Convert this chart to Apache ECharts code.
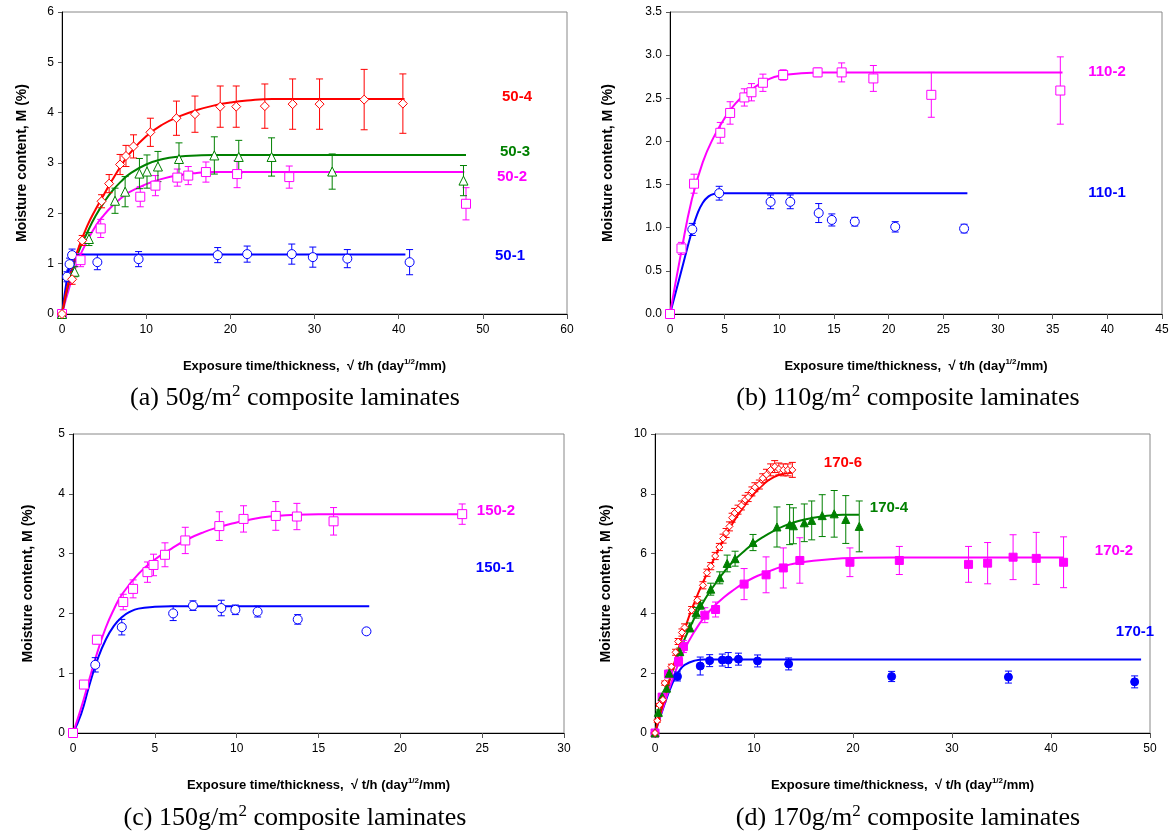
<!DOCTYPE html>
<html><head><meta charset="utf-8">
<script src="https://cdn.jsdelivr.net/npm/echarts@6/dist/echarts.min.js"></script>
<style>html,body{margin:0;padding:0;background:#fff}#c{width:1174px;height:839px}</style>
</head><body><div id="c"></div>
<script>
// ---------- DATA ([x, y, error]) ----------
// Panel (a) 50 g/m2
const s50_1 = [[0,0,0],[0.6,0.74,0.1],[0.9,0.99,0.12],[1.2,1.17,0.12],[4.2,1.03,0.15],[9.1,1.09,0.15],[18.5,1.17,0.15],[22.0,1.19,0.16],[27.3,1.19,0.2],[29.8,1.13,0.2],[33.9,1.10,0.18],[41.3,1.03,0.25]];
const f50_1 = [[0,0],[0.5,0.6],[1,1.06],[1.5,1.17],[2,1.18],[40.8,1.18]];
const s50_2 = [[0,0,0],[2.2,1.07,0.13],[4.6,1.70,0.18],[9.3,2.33,0.2],[11.1,2.55,0.2],[13.7,2.71,0.17],[15.0,2.75,0.18],[17.1,2.82,0.2],[20.8,2.78,0.27],[27.0,2.72,0.22],[48.0,2.19,0.32]];
const f50_2 = [[0,0],[1,0.6],[2,1.1],[3,1.45],[4,1.75],[5,1.97],[6,2.15],[7,2.3],[8,2.42],[10,2.58],[12,2.69],[14,2.76],[16,2.8],[18,2.82],[47.8,2.82]];
const s50_3 = [[0,0,0],[1.5,0.84,0.1],[3.2,1.49,0.13],[6.3,2.25,0.25],[7.5,2.43,0.3],[9.2,2.79,0.3],[10.1,2.83,0.33],[11.4,2.93,0.3],[13.9,3.08,0.32],[18.1,3.15,0.37],[21.0,3.12,0.33],[24.9,3.12,0.38],[32.1,2.83,0.35],[47.7,2.65,0.3]];
const f50_3 = [[0,0],[1,0.75],[2,1.25],[3,1.62],[4,1.95],[5,2.22],[6,2.45],[7,2.63],[8,2.78],[10,2.97],[12,3.08],[14,3.13],[16,3.15],[18,3.16],[48,3.16]];
const s50_4 = [[0,0,0],[1.2,0.69,0.1],[2.4,1.46,0.1],[4.7,2.24,0.13],[5.6,2.59,0.18],[6.9,2.97,0.2],[7.6,3.14,0.21],[8.5,3.33,0.23],[10.5,3.61,0.28],[13.6,3.89,0.34],[15.8,3.97,0.36],[18.8,4.12,0.41],[20.7,4.12,0.41],[24.1,4.13,0.44],[27.4,4.17,0.5],[30.6,4.17,0.5],[35.9,4.26,0.6],[40.5,4.18,0.59]];
const f50_4 = [[0,0],[1,0.8],[2,1.33],[3,1.75],[4,2.08],[5,2.38],[6,2.67],[7,2.94],[8,3.18],[10,3.53],[12,3.77],[14,3.93],[16,4.05],[18,4.14],[20,4.2],[22,4.24],[25,4.27],[40.7,4.27]];
// Panel (b) 110 g/m2
const s110_1 = [[0,0,0],[2.04,0.98,0.07],[4.5,1.40,0.08],[9.2,1.30,0.08],[11.0,1.30,0.08],[13.6,1.17,0.11],[14.8,1.09,0.07],[16.9,1.07,0.05],[20.6,1.01,0.06],[26.9,0.99,0.05]];
const f110_1 = [[0,0],[1,0.48],[2,0.96],[2.5,1.16],[3,1.29],[3.5,1.36],[4,1.39],[5,1.40],[27.2,1.40]];
const s110_2 = [[0,0,0],[1.05,0.76,0.07],[2.2,1.51,0.11],[4.6,2.10,0.12],[5.5,2.33,0.13],[6.8,2.51,0.1],[7.45,2.57,0.1],[8.5,2.68,0.1],[10.35,2.77,0.06],[13.5,2.80,0.05],[15.7,2.80,0.11],[18.6,2.73,0.15],[23.9,2.54,0.26],[35.7,2.59,0.39]];
const f110_2 = [[0,0],[1,0.7],[2,1.33],[3,1.76],[4,2.05],[5,2.27],[6,2.44],[7,2.56],[8,2.65],[9,2.72],[10,2.76],[12,2.79],[14,2.8],[35.9,2.8]];
// Panel (c) 150 g/m2
const s150_1 = [[0,0,0],[1.36,1.14,0.12],[2.98,1.77,0.13],[6.12,2.00,0.12],[7.33,2.13,0.08],[9.06,2.09,0.13],[9.92,2.06,0.08],[11.28,2.03,0.09],[13.73,1.90,0.08],[17.93,1.70,0.05]];
const f150_1 = [[0,0],[0.5,0.32],[1,0.8],[1.5,1.23],[2,1.56],[2.5,1.79],[3,1.94],[3.5,2.03],[4,2.08],[5,2.11],[6,2.12],[18.1,2.12]];
const s150_2 = [[0,0,0],[0.67,0.81,0.05],[1.46,1.56,0.07],[3.07,2.19,0.13],[3.67,2.41,0.15],[4.55,2.69,0.17],[4.92,2.81,0.18],[5.62,2.98,0.2],[6.86,3.22,0.22],[8.94,3.46,0.24],[10.42,3.58,0.22],[12.39,3.63,0.24],[13.68,3.62,0.22],[15.92,3.54,0.23],[23.78,3.66,0.17]];
const f150_2 = [[0,0],[0.5,0.42],[1,0.9],[1.5,1.36],[2,1.76],[2.5,2.07],[3,2.32],[4,2.66],[5,2.9],[6,3.08],[7,3.24],[8,3.36],[9,3.45],[10,3.52],[11,3.58],[12,3.62],[13,3.64],[15,3.66],[23.8,3.66]];
// Panel (d) 170 g/m2
const s170_1 = [[0,0,0],[2.27,1.89,0.15],[4.57,2.24,0.3],[5.52,2.42,0.2],[6.8,2.44,0.2],[7.4,2.44,0.25],[8.43,2.47,0.2],[10.36,2.41,0.2],[13.5,2.31,0.2],[23.9,1.89,0.17],[35.7,1.87,0.2],[48.45,1.71,0.2]];
const f170_1 = [[0,0],[0.5,0.5],[1,1.0],[1.5,1.45],[2,1.83],[2.5,2.1],[3,2.28],[4,2.42],[5,2.46],[6,2.46],[49.1,2.46]];
const s170_2 = [[0,0,0],[0.72,1.2,0.1],[1.36,1.97,0.1],[2.38,2.39,0.15],[2.87,2.89,0.2],[5.03,3.94,0.25],[6.12,4.13,0.25],[9.0,4.98,0.52],[11.22,5.29,0.6],[12.96,5.52,0.67],[14.63,5.77,0.76],[19.69,5.71,0.48],[24.68,5.77,0.47],[31.67,5.64,0.6],[33.6,5.68,0.69],[36.17,5.88,0.75],[38.51,5.84,0.87],[41.27,5.71,0.85]];
const f170_2 = [[0,0],[1,1.05],[2,2.0],[3,2.8],[4,3.4],[5,3.88],[6,4.25],[7,4.55],[8,4.8],[9,5.02],[10,5.2],[11,5.34],[12,5.47],[13,5.58],[14,5.66],[16,5.76],[18,5.82],[20,5.85],[24,5.87],[41.3,5.87]];
const s170_4 = [[0,0,0],[0.34,0.69,0.08],[0.72,1.22,0.1],[1.17,1.5,0.1],[1.44,2.0,0.1],[2.5,2.72,0.12],[3.51,3.53,0.15],[4.16,4.02,0.18],[4.57,4.29,0.15],[5.63,4.81,0.2],[6.54,5.19,0.2],[7.29,5.67,0.28],[8.09,5.83,0.25],[9.9,6.37,0.27],[12.32,6.89,0.67],[13.6,6.97,0.67],[13.98,6.93,0.6],[15.08,7.03,0.63],[15.83,7.11,0.65],[16.89,7.27,0.7],[18.1,7.33,0.78],[19.27,7.14,0.8],[20.63,6.91,0.85]];
const f170_4 = [[0,0],[1,1.25],[2,2.3],[3,3.15],[4,3.85],[5,4.45],[6,4.95],[7,5.4],[8,5.78],[9,6.08],[10,6.35],[11,6.57],[12,6.76],[13,6.92],[14,7.04],[15,7.13],[16,7.2],[17,7.25],[18,7.28],[19,7.3],[20.6,7.3]];
const s170_6 = [[0,0,0],[0.23,0.41,0.05],[0.45,0.94,0.05],[0.8,1.11,0.07],[0.98,1.67,0.07],[1.66,2.22,0.08],[2.08,2.7,0.1],[2.34,3.06,0.1],[2.72,3.36,0.12],[2.99,3.53,0.12],[3.7,4.11,0.12],[4.27,4.44,0.12],[4.84,4.94,0.12],[5.25,5.36,0.12],[5.63,5.58,0.12],[6.08,5.92,0.12],[6.5,6.22,0.12],[6.88,6.5,0.15],[7.18,6.69,0.15],[7.52,6.91,0.15],[7.79,7.2,0.15],[8.05,7.36,0.15],[8.39,7.47,0.15],[8.73,7.61,0.15],[9.11,7.8,0.15],[9.41,7.89,0.15],[9.79,8.08,0.15],[10.09,8.22,0.15],[10.54,8.31,0.15],[10.88,8.52,0.15],[11.26,8.64,0.18],[11.68,8.8,0.2],[12.09,8.91,0.2],[12.51,8.83,0.2],[12.96,8.8,0.2],[13.42,8.8,0.2],[13.87,8.8,0.25]];
const f170_6 = [[0,0],[0.5,0.6],[1,1.2],[2,2.4],[3,3.48],[4,4.38],[5,5.15],[6,5.85],[7,6.52],[8,7.1],[9,7.58],[10,8.0],[11,8.33],[12,8.56],[13,8.67],[13.9,8.7]];

const seriesLabels = ['50-4','50-3','50-2','50-1','110-2','110-1','150-2','150-1','170-6','170-4','170-2','170-1'];
const captions = ['(a) 50g/m','(b) 110g/m','(c) 150g/m','(d) 170g/m'];
const xAxisTitle = ['Exposure time/thickness,  \u221A t/h (day', '1/2', '/mm)'];
const yAxisTitle = 'Moisture content, M (%)';

// ---------- STYLE ----------
const RED='#ff0000', GREEN='#008000', MAG='#ff00ff', BLUE='#0000ff';
const NARROW='"Liberation Sans Narrow","Arial Narrow","Liberation Sans",Arial,sans-serif';
const SANS='"Liberation Sans",Arial,sans-serif';
const SERIF='"Liberation Serif","Times New Roman",serif';

const grids = [
  {left:62, top:12, width:505, height:302},
  {left:670, top:12, width:492, height:302},
  {left:73, top:434, width:491, height:299},
  {left:655, top:434, width:495, height:299}
];
const axesCfg = [
  {xMax:60, xInt:10, yMax:6, yInt:1, dec:0, gap:33},
  {xMax:45, xInt:5, yMax:3.5, yInt:0.5, dec:1, gap:55},
  {xMax:30, xInt:5, yMax:5, yInt:1, dec:0, gap:38},
  {xMax:50, xInt:10, yMax:10, yInt:2, dec:0, gap:42}
];

const xAxes = axesCfg.map((c,i)=>({
  type:'value', gridIndex:i, min:0, max:c.xMax, interval:c.xInt,
  axisLine:{show:true, onZero:false, lineStyle:{color:'#000', width:1}},
  axisTick:{show:true, length:5, lineStyle:{color:'#555'}},
  splitLine:{show:false},
  axisLabel:{color:'#000', fontSize:12, fontFamily:NARROW, margin:10},
  name:'{a|'+xAxisTitle[0]+'}{b|'+xAxisTitle[1]+'}{a|'+xAxisTitle[2]+'}',
  nameLocation:'middle', nameGap:44,
  nameTextStyle:{rich:{
    a:{fontSize:13, fontWeight:'bold', fontFamily:NARROW, color:'#000', lineHeight:16},
    b:{fontSize:8, fontWeight:'bold', fontFamily:NARROW, color:'#000', lineHeight:10, verticalAlign:'top'}
  }}
}));
const yAxes = axesCfg.map((c,i)=>({
  type:'value', gridIndex:i, min:0, max:c.yMax, interval:c.yInt,
  axisLine:{show:true, onZero:false, lineStyle:{color:'#000', width:1}},
  axisTick:{show:true, length:4, lineStyle:{color:'#555'}},
  splitLine:{show:false},
  axisLabel:{color:'#000', fontSize:12, fontFamily:SANS, margin:8, formatter:v=>v.toFixed(c.dec)},
  name:yAxisTitle, nameLocation:'middle', nameGap:c.gap, nameRotate:90,
  nameTextStyle:{fontSize:14, fontWeight:'bold', fontFamily:SANS, color:'#000'}
}));

const series = [];
function addSet(idx, data, fit, color, symbol, filled, size){
  series.push({type:'line', xAxisIndex:idx, yAxisIndex:idx, data:fit, smooth:0.5,
    showSymbol:false, symbol:'none', lineStyle:{color, width:2}, z:2, silent:true});
  series.push({type:'custom', xAxisIndex:idx, yAxisIndex:idx, data:data.filter(d=>d[2]>0), z:3, silent:true,
    encode:{x:0, y:1},
    renderItem:(p, api)=>{
      const x=api.value(0), y=api.value(1), e=api.value(2);
      const hi=api.coord([x,y+e]), lo=api.coord([x,y-e]);
      const w=3.5, st={stroke:color, lineWidth:1};
      return {type:'group', children:[
        {type:'line', shape:{x1:hi[0],y1:hi[1],x2:lo[0],y2:lo[1]}, style:st},
        {type:'line', shape:{x1:hi[0]-w,y1:hi[1],x2:hi[0]+w,y2:hi[1]}, style:st},
        {type:'line', shape:{x1:lo[0]-w,y1:lo[1],x2:lo[0]+w,y2:lo[1]}, style:st}
      ]};
    }});
  series.push({type:'scatter', xAxisIndex:idx, yAxisIndex:idx, data:data.map(d=>[d[0],d[1]]),
    symbol, symbolSize:size, itemStyle:{color: filled?color:'#fff', borderColor:color, borderWidth:1, opacity:1}, z:4, silent:true});
}
addSet(0, s50_1, f50_1, BLUE, 'circle', false, 9);
addSet(0, s50_2, f50_2, MAG, 'rect', false, 9);
addSet(0, s50_3, f50_3, GREEN, 'triangle', false, 9);
addSet(0, s50_4, f50_4, RED, 'diamond', false, 9);
addSet(1, s110_1, f110_1, BLUE, 'circle', false, 9);
addSet(1, s110_2, f110_2, MAG, 'rect', false, 9);
addSet(2, s150_1, f150_1, BLUE, 'circle', false, 9);
addSet(2, s150_2, f150_2, MAG, 'rect', false, 9);
addSet(3, s170_1, f170_1, BLUE, 'circle', true, 8);
addSet(3, s170_2, f170_2, MAG, 'rect', true, 8);
addSet(3, s170_4, f170_4, GREEN, 'triangle', true, 8);
addSet(3, s170_6, f170_6, RED, 'diamond', false, 7);

const labelPos = [[517,97,RED],[515,152,GREEN],[512,177,MAG],[510,256,BLUE],[1107,72,MAG],[1107,193,BLUE],
  [496,511,MAG],[495,568,BLUE],[843,463,RED],[889,508,GREEN],[1114,551,MAG],[1135,632,BLUE]];
const graphic = labelPos.map((p,i)=>({type:'text', x:p[0], y:p[1], z:10,
  style:{text:seriesLabels[i], fill:p[2], font:'bold 15px '+SANS, textAlign:'center', textVerticalAlign:'middle'}}));
const capPos = [[295,398],[908,398],[295,818],[908,818]];
capPos.forEach((p,i)=>{
  graphic.push({type:'text', x:p[0], y:p[1], z:10, style:{
    text:'{a|'+captions[i]+'}{b|2}{a| composite laminates}', textAlign:'center', textVerticalAlign:'middle',
    rich:{a:{fontSize:26, fontFamily:SERIF, fill:'#000', lineHeight:30},
          b:{fontSize:17, fontFamily:SERIF, fill:'#000', lineHeight:18, verticalAlign:'top'}}}});
});

const chart = echarts.init(document.getElementById('c'), null, {renderer:'canvas'});
chart.setOption({
  animation:false, backgroundColor:'#fff',
  grid: grids.map(g=>Object.assign({show:true, borderColor:'#888', borderWidth:1, containLabel:false}, g)),
  xAxis:xAxes, yAxis:yAxes, series, graphic
});
</script></body></html>
